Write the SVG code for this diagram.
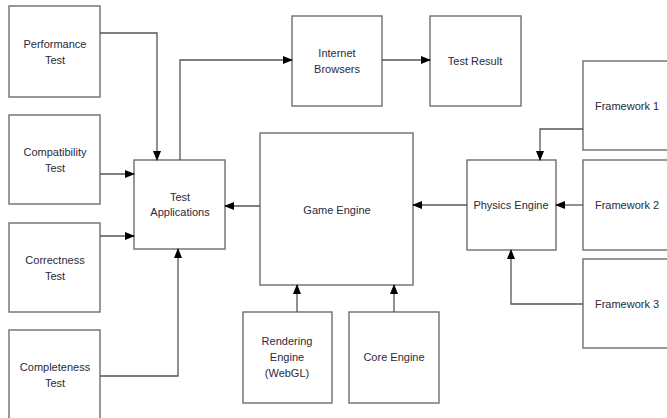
<svg xmlns="http://www.w3.org/2000/svg" width="667" height="418" viewBox="0 0 667 418">
<defs>
<marker id="ah" markerWidth="10" markerHeight="8" refX="9" refY="4" orient="auto" markerUnits="userSpaceOnUse">
<path d="M0,0 L10,4 L0,8 Z" fill="#000"/>
</marker>
<style>
.box{fill:#fff;stroke:#6e6e6e;stroke-width:1.4}
.t{font-family:"Liberation Sans",Arial,sans-serif;font-size:11px;fill:#2a2a3a;text-anchor:middle}
.c{fill:none;stroke:#555;stroke-width:1.3;marker-end:url(#ah)}
</style>
</defs>
<rect width="667" height="418" fill="#fff"/>
<g id="performance"><rect class="box" x="9" y="6" width="91" height="91"/><text class="t" x="55" y="48">Performance</text><text class="t" x="55" y="64">Test</text></g>
<g id="compatibility"><rect class="box" x="9" y="115" width="91" height="89"/><text class="t" x="55" y="156">Compatibility</text><text class="t" x="55" y="172">Test</text></g>
<g id="correctness"><rect class="box" x="9" y="223" width="91" height="89"/><text class="t" x="55" y="264">Correctness</text><text class="t" x="55" y="280">Test</text></g>
<g id="completeness"><rect class="box" x="9" y="330" width="91" height="95"/><text class="t" x="55" y="371">Completeness</text><text class="t" x="55" y="387">Test</text></g>
<g id="testapps"><rect class="box" x="134" y="160" width="91" height="89"/><text class="t" x="180" y="201">Test</text><text class="t" x="180" y="216">Applications</text></g>
<g id="browsers"><rect class="box" x="292" y="16" width="90" height="90"/><text class="t" x="337" y="57">Internet</text><text class="t" x="337" y="73">Browsers</text></g>
<g id="testresult"><rect class="box" x="430" y="16" width="91" height="90"/><text class="t" x="475" y="65">Test Result</text></g>
<g id="gameengine"><rect class="box" x="260" y="133" width="153" height="152"/><text class="t" x="337" y="214">Game Engine</text></g>
<g id="physics"><rect class="box" x="467" y="160" width="89" height="90"/><text class="t" x="511" y="209">Physics Engine</text></g>
<g id="fw1"><rect class="box" x="583" y="61" width="95" height="89"/><text class="t" x="627" y="110">Framework 1</text></g>
<g id="fw2"><rect class="box" x="583" y="160" width="95" height="90"/><text class="t" x="627" y="209">Framework 2</text></g>
<g id="fw3"><rect class="box" x="583" y="259" width="95" height="89"/><text class="t" x="627" y="308">Framework 3</text></g>
<g id="rendering"><rect class="box" x="243" y="312" width="89" height="91"/><text class="t" x="287" y="345">Rendering</text><text class="t" x="287" y="361">Engine</text><text class="t" x="287" y="377">(WebGL)</text></g>
<g id="core"><rect class="box" x="349" y="312" width="90" height="91"/><text class="t" x="394" y="361">Core Engine</text></g>
<g id="connectors">
<path class="c" d="M100,33 H157 V160"/>
<path class="c" d="M100,174 H134"/>
<path class="c" d="M100,236 H134"/>
<path class="c" d="M100,376 H178 V249"/>
<path class="c" d="M180,160 V60 H292"/>
<path class="c" d="M382,60 H430"/>
<path class="c" d="M260,206 H225"/>
<path class="c" d="M467,205 H413"/>
<path class="c" d="M583,129 H540 V160"/>
<path class="c" d="M583,205 H556"/>
<path class="c" d="M583,304 H511 V250"/>
<path class="c" d="M297,312 V285"/>
<path class="c" d="M394,312 V285"/>
</g>
</svg>
